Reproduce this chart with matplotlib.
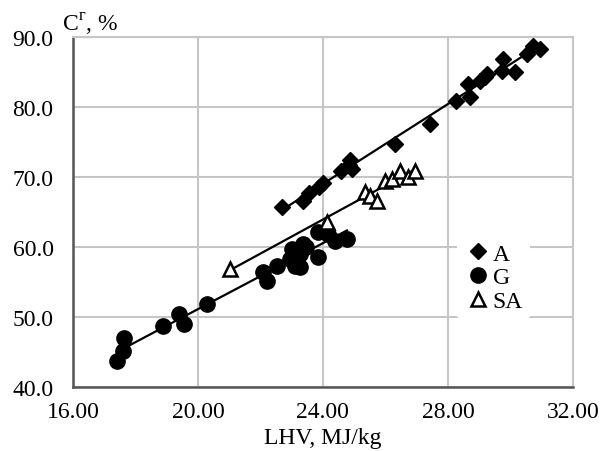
import numpy as np
import matplotlib
matplotlib.use('Agg')
import matplotlib.pyplot as plt

plt.rcParams['font.family'] = ['Liberation Serif', 'DejaVu Serif']
plt.rcParams['mathtext.fontset'] = 'custom'
plt.rcParams['mathtext.rm'] = 'Liberation Serif'

# group A (diamonds)
a_x = [22.69, 23.36, 23.55, 23.87, 24.00, 24.58, 24.83, 24.86, 24.93, 26.30, 27.42,
       28.26, 28.70, 28.64, 29.02, 29.18, 29.25, 29.76, 29.73, 30.14, 30.53, 30.72, 30.94]
a_y = [65.7, 66.6, 67.7, 68.6, 69.1, 70.9, 71.7, 72.4, 71.1, 74.7, 77.6,
       80.9, 81.4, 83.3, 83.7, 84.3, 84.7, 86.9, 85.1, 85.0, 87.6, 88.7, 88.3]

# group G (circles)
g_x = [17.41, 17.60, 17.63, 18.88, 19.39, 19.55, 20.29, 22.08, 22.21, 22.53, 23.01, 23.36,
       23.26, 23.10, 23.26, 23.04, 23.84, 23.84, 24.16, 24.38, 24.77, 23.46, 22.94]
g_y = [43.7, 45.1, 47.0, 48.7, 50.4, 49.0, 51.9, 56.4, 55.1, 57.3, 59.7, 60.4,
       59.0, 57.3, 57.1, 58.0, 58.6, 62.1, 61.9, 60.9, 61.1, 60.0, 58.3]

# group SA (triangles)
sa_x = [21.02, 24.13, 25.34, 25.50, 25.73, 25.98, 26.20, 26.46, 26.72, 26.94]
sa_y = [56.9, 63.6, 67.9, 67.3, 66.6, 69.4, 69.7, 70.9, 70.0, 70.9]

x_ticks = [16, 20, 24, 28, 32]
y_ticks = [40, 50, 60, 70, 80, 90]

fig = plt.figure(figsize=(6.03, 4.52), dpi=100)
ax = fig.add_axes([0.121, 0.142, 0.829, 0.774])

def trend(xs, ys):
    k, b = np.polyfit(xs, ys, 1)
    xx = np.array([min(xs), max(xs)])
    ax.plot(xx, k * xx + b, color='black', lw=1.6, zorder=2)

trend(a_x, a_y)
trend(g_x, g_y)
trend(sa_x, sa_y)

ax.plot(a_x, a_y, 'D', ms=8, color='black', label='A', zorder=3)
ax.plot(g_x, g_y, 'o', ms=11, color='black', label='G', zorder=3)
ax.plot(sa_x, sa_y, '^', ms=10, mfc='white', mec='black', mew=1.8, label='SA', zorder=4)

ax.set_xlim(16, 32)
ax.set_ylim(40, 90)
ax.set_xticks(x_ticks)
ax.set_yticks(y_ticks)
ax.set_xticklabels(['%.2f' % v for v in x_ticks])
ax.set_yticklabels(['%.1f' % v for v in y_ticks])
ax.tick_params(length=0, labelsize=17, colors='black')
ax.tick_params(axis='y', pad=14)
ax.tick_params(axis='x', pad=10)
ax.grid(True, color='#c6c6c6', lw=1.5)
ax.set_axisbelow(True)
for s in ['top', 'right']:
    ax.spines[s].set_color('#c6c6c6')
    ax.spines[s].set_linewidth(1.5)
for s in ['left', 'bottom']:
    ax.spines[s].set_color('#555555')
    ax.spines[s].set_linewidth(1.8)

ax.set_xlabel('LHV, MJ/kg', fontsize=17, labelpad=4)
fig.text(62 / 603, 1 - 32 / 452, r'C$^{\mathrm{г}}$, %', fontsize=17, ha='left', va='baseline')

leg = ax.legend(loc='upper left', bbox_to_anchor=(0.745, 0.465), fontsize=17, frameon=True,
                handletextpad=0.0, handlelength=1.2, borderpad=0.3, labelspacing=0.1)
leg.get_frame().set_edgecolor('none')
leg.get_frame().set_facecolor('white')
leg.get_frame().set_alpha(1)

fig.savefig('out.png', dpi=100)
